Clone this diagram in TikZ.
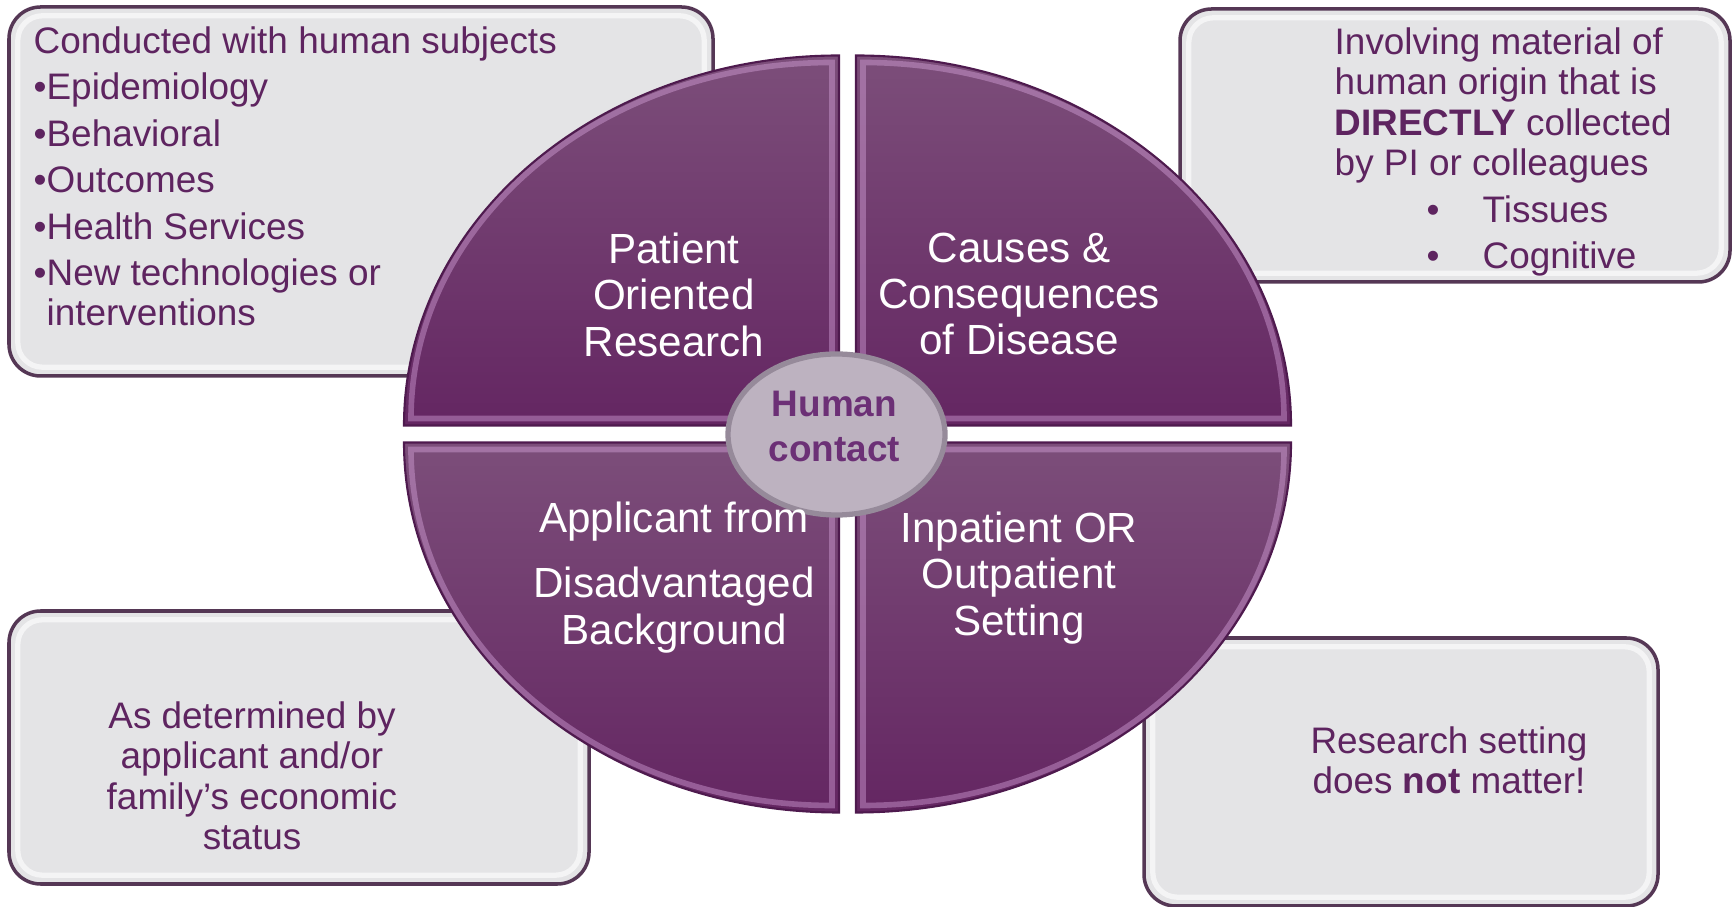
\documentclass[tikz,border=0pt]{standalone}
\usepackage{fontspec}
\setmainfont{Liberation Sans}
\usetikzlibrary{shapes.geometric}

\definecolor{boxfill}{RGB}{228,228,230}
\definecolor{boxline}{RGB}{85,55,85}
\definecolor{textpurple}{RGB}{94,36,96}
\definecolor{quadtop}{RGB}{124,78,122}
\definecolor{quadbot}{RGB}{100,38,98}
\definecolor{quadedge}{RGB}{78,26,78}
\definecolor{quadshine}{RGB}{222,172,228}
\definecolor{hubfill}{RGB}{189,178,192}
\definecolor{hubline}{RGB}{150,138,154}
\definecolor{hubtext}{RGB}{108,48,118}

\begin{document}
\begin{tikzpicture}
[boxdecorate/.style={draw=boxline,line width=1pt,fill=boxfill,rounded corners=9pt,inner sep=0pt},%
  boxshine/.style={draw=white,line width=1.5pt,opacity=0.6,rounded corners=7pt},
  quaddecorate/.style={top color=quadtop,bottom color=quadbot,draw=quadedge,line width=0.6pt},
  quadbevel/.style={draw=quadshine,line width=1.6pt,opacity=0.4},
  hubdecorate/.style={shape=ellipse,draw=hubline,line width=1.5pt,fill=hubfill,
    minimum width=2.17cm,minimum height=1.61cm,inner sep=0pt},
  hubtextdecorate/.style={align=center,inner sep=0pt,text=hubtext,
    font=\fontsize{10.5}{12.9}\selectfont\bfseries},
  quadtext/.style={text=white,align=center,inner sep=0pt,anchor=north,
    font=\fontsize{12}{13.2}\selectfont},
  boxtext/.style={text=textpurple,inner sep=0pt,font=\fontsize{10.5}{11.5}\selectfont}]
\useasboundingbox (0,0) rectangle (17.33,9.07);
%% grey boxes
\foreach \boxname/\x/\y/\w/\h in {
  tl/3.61/7.155/7.04/3.69, tr/14.55/7.615/5.50/2.73,
  bl/2.99/1.595/5.80/2.73, br/14.01/1.35/5.14/2.68}
{
  \node (\boxname) at (\x,\y) [boxdecorate,minimum width=\w cm,minimum height=\h cm] {};
  \draw[boxshine] ([shift={(3pt,-3pt)}]\boxname.north west) rectangle ([shift={(-3pt,3pt)}]\boxname.south east);
}
%% quadrants of the ellipse
\foreach \qname/\sx/\sy/\from/\to in {
  qtl/-1/1/180/90, qtr/1/1/0/90, qbl/-1/-1/180/270, qbr/1/-1/0/-90}
{
  \coordinate (\qname) at ({8.475+\sx*0.085},{4.73+\sy*0.085});
  \shade[quaddecorate] (\qname) -- ++({\sx*4.35},0)
    arc[start angle=\from,end angle=\to,x radius=4.35cm,y radius=3.7cm] -- cycle;
  \draw[quadbevel] ([shift={({\sx*0.07},{\sy*0.07})}]\qname) -- ++({\sx*4.21},0)
    arc[start angle=\from,end angle=\to,x radius=4.21cm,y radius=3.56cm] -- cycle;
}
%% centre
\node (hub) at (8.365,4.725) [hubdecorate] {};
\node (hublabel) at ([xshift=-0.02cm,yshift=0.08cm]hub.center) [hubtextdecorate] {Human\\contact};
%% quadrant labels
\node (patient) at (6.74,6.75) [quadtext] {Patient\\Oriented\\Research};
\node (causes) at (10.19,6.75) [quadtext] {Causes \&\\Consequences\\of Disease};
\node (applicant) at (6.74,4.06) [quadtext] {Applicant from\\[5.4pt]Disadvantaged\\Background};
\node (inpatient) at (10.19,3.96) [quadtext] {Inpatient OR\\Outpatient\\Setting};
%% box texts
\node (subjects) at (0.33,8.81) [boxtext,anchor=north west,align=left]
  {Conducted with human subjects\\[1.7pt]
   •Epidemiology\\[1.7pt]
   •Behavioral\\[1.7pt]
   •Outcomes\\[1.7pt]
   •Health Services\\[1.7pt]
   •New technologies or\\
   \hspace*{0.13cm}interventions};
\node (material) at (13.34,8.80) [boxtext,anchor=north west,align=left]
  {Involving material of\\
   human origin that is\\
   \textbf{DIRECTLY} collected\\
   by PI or colleagues\\[1.7pt]
   \hspace*{0.92cm}•\hspace{0.43cm}Tissues\\[1.7pt]
   \hspace*{0.92cm}•\hspace{0.43cm}Cognitive};
\node (economic) at (2.52,2.06) [boxtext,anchor=north,align=center]
  {As determined by\\applicant and/or\\family’s economic\\status};
\node (setting) at (14.49,1.81) [boxtext,anchor=north,align=center]
  {Research setting\\does \textbf{not} matter!};
\end{tikzpicture}
\end{document}
